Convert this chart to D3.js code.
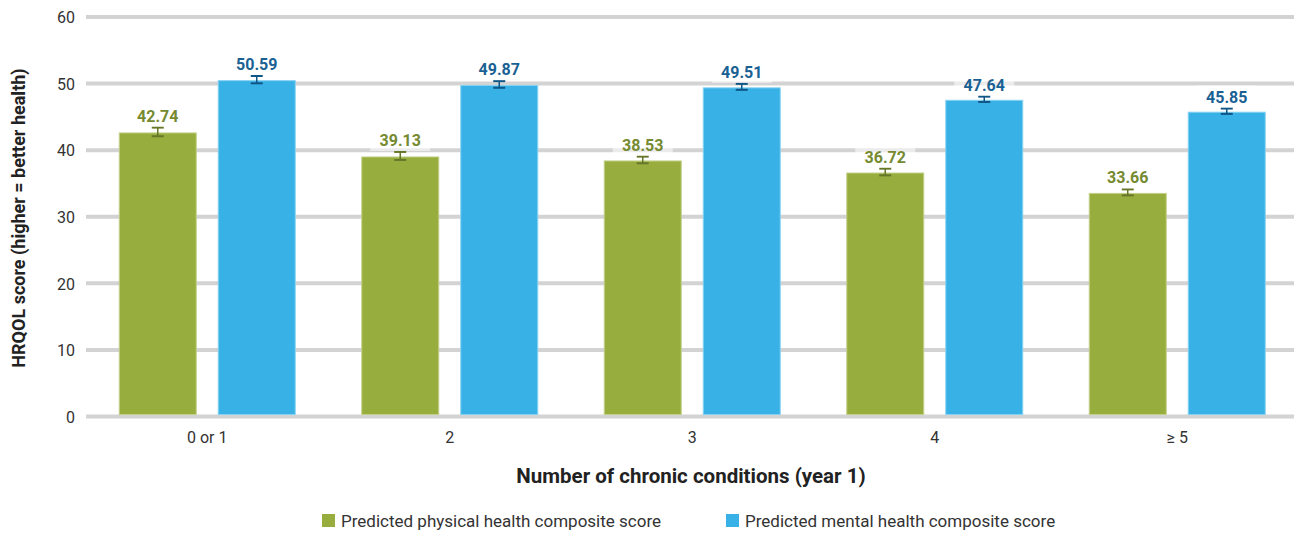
<!DOCTYPE html>
<html><head><meta charset="utf-8">
<script src="https://cdn.jsdelivr.net/npm/d3@7"></script>
<style>body{margin:0;background:#fff;font-family:Roboto,"Noto Sans",sans-serif;}</style>
</head><body><svg id="c" width="1299" height="533"></svg>
<script>
const categories = ["0 or 1", "2", "3", "4", "\u2265 5"];
const physical = [42.74, 39.13, 38.53, 36.72, 33.66];
const mental = [50.59, 49.87, 49.51, 47.64, 45.85];
const physicalErr = [0.65, 0.6, 0.5, 0.5, 0.45];
const mentalErr = [0.55, 0.5, 0.45, 0.4, 0.4];
const yTicks = [0, 10, 20, 30, 40, 50, 60];
const seriesNames = ["Predicted physical health composite score", "Predicted mental health composite score"];

const svg = d3.select("#c");
const x = d3.scaleBand().domain(categories).range([86, 1298.5]);
const y = d3.scaleLinear().domain([0, 60]).range([416.5, 17]);
const barW = 78, gap = 21;
const colors = {fill:["#97ae3f","#38b2e6"], stroke:["#c3d08a","#86d2f2"], label:["#768a31","#1a6193"], err:["#66772a","#0f5585"]};

svg.append("g").selectAll("line").data(yTicks).join("line")
  .attr("x1", 86).attr("x2", 1294)
  .attr("y1", d => y(d)).attr("y2", d => y(d))
  .attr("stroke", "#d3d3d3").attr("stroke-width", 4);

const yAxis = d3.axisLeft(y).tickValues(yTicks).tickSize(0).tickPadding(0);
const gy = svg.append("g").attr("transform", "translate(75,0)").call(yAxis);
gy.select(".domain").remove();
gy.selectAll("text").attr("font-size", 16).attr("fill", "#333").attr("font-family", "Roboto").attr("dy", "0.36em");

const xAxis = d3.axisBottom(x).tickSize(0).tickPadding(0);
const gx = svg.append("g").attr("transform", "translate(0,432)").call(xAxis);
gx.select(".domain").remove();
gx.selectAll("text").attr("font-size", 16).attr("fill", "#333").attr("font-family", "Roboto").attr("dy", "0.71em");

const series = [physical, mental];
const errs = [physicalErr, mentalErr];
series.forEach((vals, s) => {
  const g = svg.append("g");
  const bx = (c) => x(c) + x.bandwidth()/2 + (s === 0 ? -(gap/2 + barW) : gap/2);
  g.selectAll("rect").data(categories).join("rect")
    .attr("x", c => bx(c) + 0.5)
    .attr("width", barW - 1)
    .attr("y", (c,i) => y(vals[i]) + 1)
    .attr("height", (c,i) => y(0) - 3 - y(vals[i]))
    .attr("fill", colors.fill[s]).attr("stroke", colors.stroke[s]).attr("stroke-width", 1);
});
series.forEach((vals, s) => {
  const g = svg.append("g");
  const cx = (c) => x(c) + x.bandwidth()/2 + (s === 0 ? -(gap/2 + barW/2) : gap/2 + barW/2);
  categories.forEach((c, i) => {
    const v = vals[i], e = errs[s][i];
    const top = y(v + e), bot = y(v - e);
    g.append("line").attr("x1", cx(c)).attr("x2", cx(c)).attr("y1", top).attr("y2", bot).attr("stroke", colors.err[s]).attr("stroke-width", 1.5);
    [top, bot].forEach(yy => g.append("line").attr("x1", cx(c)-6).attr("x2", cx(c)+6).attr("y1", yy).attr("y2", yy).attr("stroke", colors.err[s]).attr("stroke-width", 2));
    const ty = top - 6;
    g.append("rect").attr("x", cx(c) - 30).attr("y", ty - 17).attr("width", 60).attr("height", 22)
      .attr("fill", "#fff").attr("fill-opacity", 0.55);
    g.append("text").attr("x", cx(c)).attr("y", ty).attr("text-anchor", "middle")
      .attr("font-size", 16).attr("font-weight", 700).attr("fill", colors.label[s]).attr("font-family", "Roboto")
      .text(v.toFixed(2));
  });
});

svg.append("text").attr("x", 691).attr("y", 483).attr("text-anchor", "middle")
  .attr("font-size", 20.5).attr("font-weight", 700).attr("fill", "#222").attr("font-family", "Roboto")
  .text("Number of chronic conditions (year 1)");
svg.append("text").attr("transform", "translate(25,218) rotate(-90)").attr("text-anchor", "middle")
  .attr("font-size", 18).attr("font-weight", 700).attr("fill", "#222").attr("font-family", "Roboto")
  .text("HRQOL score (higher = better health)");

const legX = [322, 726];
seriesNames.forEach((n, s) => {
  svg.append("rect").attr("x", legX[s]).attr("y", 514).attr("width", 13).attr("height", 13).attr("fill", colors.fill[s]);
  svg.append("text").attr("x", legX[s] + 19).attr("y", 526.5).attr("font-size", 17).attr("fill", "#333").attr("font-family", "Roboto").text(n);
});
</script></body></html>
